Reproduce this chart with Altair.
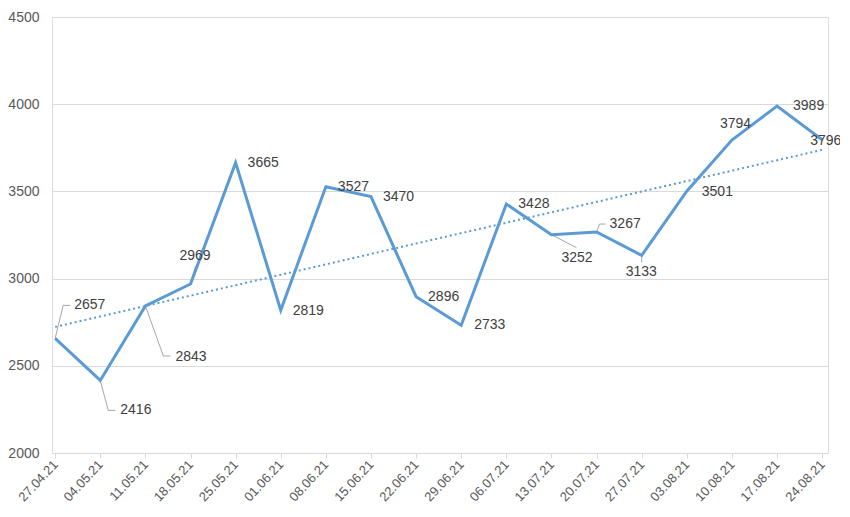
import altair as alt
import pandas as pd

dates = ["27.04.21", "04.05.21", "11.05.21", "18.05.21", "25.05.21", "01.06.21",
         "08.06.21", "15.06.21", "22.06.21", "29.06.21", "06.07.21", "13.07.21",
         "20.07.21", "27.07.21", "03.08.21", "10.08.21", "17.08.21", "24.08.21"]
values = [2657, 2416, 2843, 2969, 3665, 2819, 3527, 3470, 2896, 2733, 3428, 3252,
          3267, 3133, 3501, 3794, 3989, 3796]

# label offsets in pixels (relative to data point)
label_dx = [19, 20, 30, -11, 12, 12, 12, 12, 12, 13, 12, 10, 13, -16, 15, -12, 16, -12]
label_dy = [-33, 30, 51, -28, 0, 1, 0, 0, 0, 0, 0, 23, -8, 17, 1, -16, 0, 1]

# leader lines: (index, [(dx, dy), ...]) in pixels relative to point
leaders = {
    0: [(8, -33), (15, -33)],
    1: [(8, 30), (15, 30)],
    2: [(18, 50), (25, 50)],
    3: [(5, -18)],
    11: [(25, 13)],
    12: [(3, -8), (9, -8)],
    13: [(0, 7)],
}

W, H = 776, 436
XMIN, XMAX = -0.07, 17.13
YMIN, YMAX = 2000, 4500
px_x = (XMAX - XMIN) / W
px_y = (YMAX - YMIN) / H

df = pd.DataFrame({"i": range(len(dates)), "date": dates, "value": values})
df["lx"] = df["i"] + pd.Series(label_dx) * px_x
df["ly"] = df["value"] - pd.Series(label_dy) * px_y

rows = []
for i, pts in leaders.items():
    rows.append({"g": i, "o": 0, "x": i, "y": values[i]})
    for k, (dx, dy) in enumerate(pts):
        rows.append({"g": i, "o": k + 1, "x": i + dx * px_x, "y": values[i] - dy * px_y})
ldf = pd.DataFrame(rows)

label_expr = "[" + ",".join(f"'{d}'" for d in dates) + "][datum.value]"

xscale = alt.Scale(domain=[XMIN, XMAX], nice=False, zero=False)
yscale = alt.Scale(domain=[YMIN, YMAX], nice=False, zero=False)

base = alt.Chart(df)

line = base.mark_line(color="#5b9bd5", strokeWidth=3, strokeJoin="miter").encode(
    x=alt.X("i:Q", scale=xscale,
            axis=alt.Axis(title=None, values=list(range(len(dates))), labelExpr=label_expr,
                          labelAngle=-47, labelAlign="right", labelBaseline="middle",
                          labelPadding=4, tickSize=5, tickColor="#d9d9d9",
                          domainColor="#d9d9d9", grid=False, labelFontSize=13,
                          labelColor="#595959", labelFont="Liberation Sans",
                          labelOverlap=False, labelBound=False, labelFlush=False)),
    y=alt.Y("value:Q", scale=yscale,
            axis=alt.Axis(title=None, values=[2000, 2500, 3000, 3500, 4000, 4500],
                          format="d", domain=False, ticks=False, gridColor="#d9d9d9",
                          labelPadding=13, labelFontSize=14, labelColor="#595959",
                          labelFont="Liberation Sans")),
)

trend = base.transform_regression("i", "value", extent=[0, 17]).mark_line(
    color="#5b9bd5", strokeWidth=2, strokeDash=[2, 3]
).encode(x=alt.X("i:Q", scale=xscale), y=alt.Y("value:Q", scale=yscale))

lead = alt.Chart(ldf).mark_line(color="#a6a6a6", strokeWidth=1).encode(
    x=alt.X("x:Q", scale=xscale), y=alt.Y("y:Q", scale=yscale),
    detail="g:N", order="o:Q"
)

text = base.mark_text(align="left", baseline="middle", fontSize=14,
                      font="Liberation Sans", color="#404040").encode(
    x=alt.X("lx:Q", scale=xscale), y=alt.Y("ly:Q", scale=yscale),
    text="value:Q"
)

chart = alt.layer(lead, trend, line, text).properties(
    width=W, height=H,
    autosize=alt.AutoSizeParams(type="none"),
    padding={"left": 44, "top": 9, "right": 12, "bottom": 54},
).configure_view(stroke=None).configure(background="white")

chart.save("out.html", embed_options={"renderer": "svg", "actions": False})
